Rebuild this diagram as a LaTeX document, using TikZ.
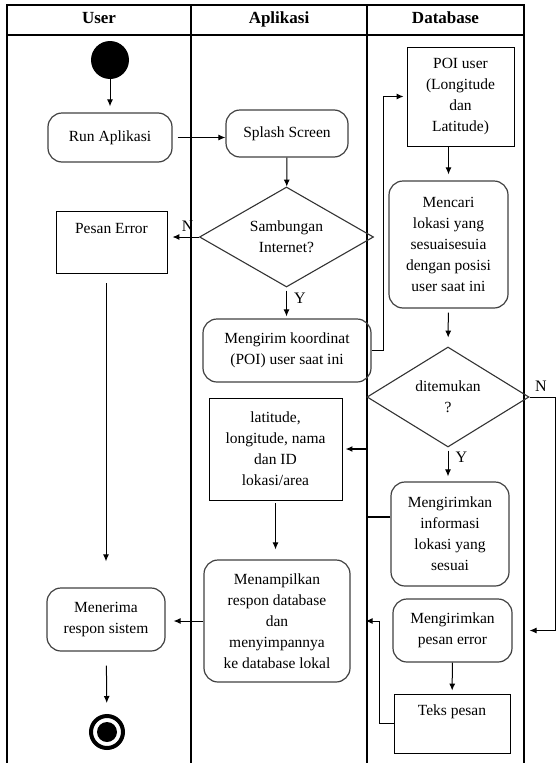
\documentclass[tikz,border=0pt]{standalone}
\usepackage{fontspec}
\setmainfont{Liberation Serif}
\usetikzlibrary{shapes.geometric,arrows.meta}

\begin{document}
\begin{tikzpicture}[x=1pt,y=-1pt,
  font=\fontsize{15.5}{21}\selectfont,
  act/.style={draw=black!75,line width=1.2pt,rounded corners=14pt,align=center,inner sep=2pt},
  box/.style={draw,line width=0.9pt,align=center,inner sep=2pt},
  cond/.style={draw=black!80,line width=1.1pt,diamond,aspect=1.7,inner sep=0pt,align=center},
  flow/.style={line width=1pt,-{Latex[length=7pt,width=6pt]}},
  lane/.style={line width=1.2pt},
  head/.style={font=\fontsize{17}{20}\selectfont\bfseries,text height=12pt,text depth=3pt},
  lbl/.style={font=\fontsize{16}{18}\selectfont,inner sep=3pt}]

\useasboundingbox (0,0) rectangle (556,763);

\draw[lane] (7,763) -- (7,5) -- (524,5) -- (524,763);
\draw[lane] (7,35) -- (524,35);
\draw[lane] (191,5) -- (191,763);
\draw[lane] (367,5) -- (367,763);

\node[head] (huser) at (99,19) {User};
\node[head] (happ) at (279,19) {Aplikasi};
\node[head] (hdb) at (445.5,19) {Database};

\node[circle,fill=black,minimum size=38pt,inner sep=0pt] (start) at (110,60) {};
\node[act,minimum width=124pt,minimum height=49pt] (run) at (110,137.5) {Run Aplikasi};
\node[act,minimum width=122pt,minimum height=47pt] (splash) at (287,133.5) {Splash Screen};
\node[cond,minimum width=174pt,minimum height=100pt] (net) at (286.5,237) {Sambungan\\Internet?};
\node[box,minimum width=111pt,minimum height=62pt] (perr) at (111.5,242) {Pesan Error\\ \strut};
\node[act,minimum width=168pt,minimum height=63pt] (kirim) at (287,350.5) {Mengirim koordinat\\(POI) user saat ini};
\node[box,minimum width=133pt,minimum height=102pt] (lokasi) at (275.5,449) {latitude,\\longitude, nama\\dan ID\\lokasi/area};
\node[act,minimum width=146pt,minimum height=122pt] (tampil) at (277,621) {Menampilkan\\respon database\\dan\\menyimpannya\\ke database lokal};
\node[act,minimum width=118pt,minimum height=63pt] (terima) at (106,619.5) {Menerima\\respon sistem};
\node[circle,draw,line width=4pt,minimum size=32pt,inner sep=0pt] (end) at (107,732) {};
\node[circle,fill=black,minimum size=20pt,inner sep=0pt] (enddot) at (end) {};

\node[box,minimum width=107pt,minimum height=99pt] (poi) at (460.5,96.5) {POI user\\(Longitude\\dan\\Latitude)};
\node[act,minimum width=119pt,minimum height=127pt] (cari) at (448.5,244.5) {Mencari\\lokasi yang\\sesuaisesuia\\dengan posisi\\user saat ini};
\node[cond,minimum width=162pt,minimum height=100pt] (temu) at (448,397) {ditemukan\\?};
\node[act,minimum width=118pt,minimum height=104pt] (info) at (450,534) {Mengirimkan\\informasi\\lokasi yang\\sesuai};
\node[act,minimum width=119pt,minimum height=63pt] (kerr) at (452.5,630.5) {Mengirimkan\\pesan error};
\node[box,minimum width=116pt,minimum height=59pt] (teks) at (452,723.5) {Teks pesan\\ \strut};

\draw[flow,shorten >=6pt] (start) -- (run);
\draw[flow,shorten <=5pt] (run.east) -- (run.east -| splash.west);
\draw[flow] (splash) -- (net);
\draw[flow,shorten >=5pt] (net.west) node[lbl,anchor=south east,inner sep=5pt] {N} -- (net.west -| perr.east);
\draw[flow,shorten <=3pt,shorten >=2pt] (net.south) -- (net.south |- kirim.north) node[lbl,pos=0.35,right=4pt] {Y};
\draw[flow,shorten <=10pt,shorten >=26pt] (terima.north |- perr.south) -- (terima.north);
\draw[flow,shorten <=14pt,shorten >=11pt] (terima) -- (end);

\draw[flow,shorten >=3pt] (kirim.east) -- ++(12,0) |- (poi.west);
\draw[flow,shorten >=6pt] (poi.south -| cari.north) -- (cari.north);
\draw[flow,shorten <=4pt,shorten >=9pt] (cari) -- (temu);
\draw[flow,shorten <=3pt,shorten >=5pt] (temu.south) -- (temu.south |- info.north) node[lbl,pos=0.3,right=4pt] {Y};
\draw[flow,line width=1.6pt,shorten >=3pt] ([yshift=17pt]info.west) -- ++(-23,0) |- (lokasi.east);
\draw[flow,shorten <=3pt,shorten >=10pt] (lokasi.south) -- (lokasi.south |- tampil.north);
\draw[flow,shorten >=8pt] (tampil.west) -- (tampil.west -| terima.east);

\draw[flow,shorten >=17pt] (temu.east) node[lbl,anchor=south west,inner sep=5pt] {N} -- ++(26,0) |- (kerr.east);
\draw[flow,shorten >=3pt] (kerr) -- (teks);
\draw[flow,shorten >=15pt] (teks.west) -- ++(-14,0) |- (tampil.east);
\end{tikzpicture}
\end{document}
